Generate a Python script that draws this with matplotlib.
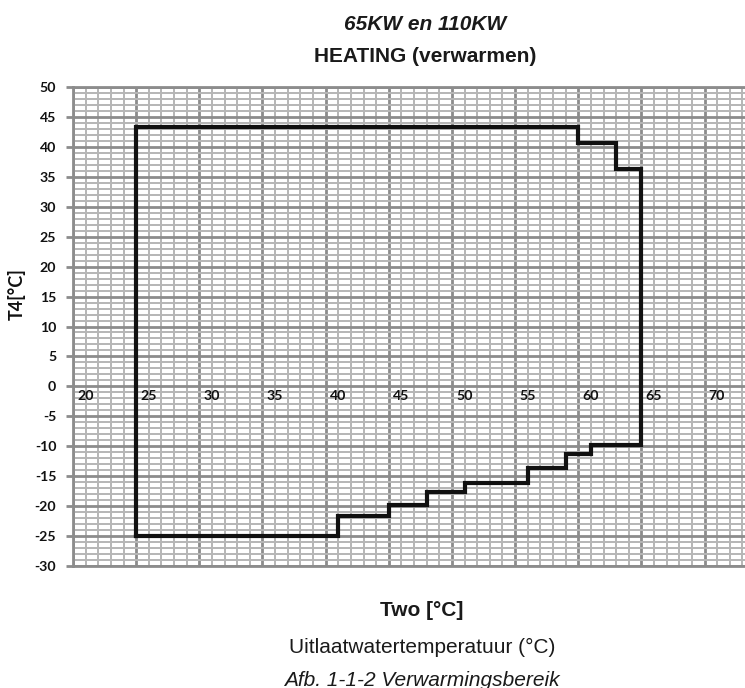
import matplotlib
matplotlib.use("Agg")
import matplotlib.pyplot as plt
from matplotlib.ticker import MultipleLocator
import matplotlib.transforms as mtrans

plt.rcParams["axes.unicode_minus"] = False

# Operating envelope (outlet water temperature vs ambient T4)
two_c = [25, 25, 60, 60, 63, 63, 65, 65, 61, 61, 59, 59, 56, 56, 51, 51,
         48, 48, 45, 45, 41, 41, 25]
t4_c = [-25, 43.3, 43.3, 40.7, 40.7, 36.3, 36.3, -9.8, -9.8, -11.3, -11.3,
        -13.7, -13.7, -16.1, -16.1, -17.7, -17.7, -19.8, -19.8, -21.7, -21.7,
        -25, -25]

x_ticks = [20, 25, 30, 35, 40, 45, 50, 55, 60, 65, 70]
y_ticks = [50, 45, 40, 35, 30, 25, 20, 15, 10, 5, 0, -5, -10, -15, -20, -25, -30]

title1 = "65KW en 110KW"
title2 = "HEATING (verwarmen)"
xlabel1 = "Two [°C]"
xlabel2 = "Uitlaatwatertemperatuur (°C)"
caption = "Afb. 1-1-2 Verwarmingsbereik"
ylabel = "T4[°C]"

MAJOR = "#8c8c8c"
MINOR = "#b6b6b6"
TICKFONT = dict(fontfamily="Lato", fontweight="bold", fontsize=10.2,
                color="#111111")

fig = plt.figure(figsize=(7.45, 6.88), dpi=100)
ax = fig.add_axes([73 / 745, (688 - 566) / 688, 1 - 73 / 745, (566 - 87) / 688])

ax.set_xlim(20, 73.2)
ax.set_ylim(-30, 50)
ax.set_axisbelow(True)

ax.xaxis.set_major_locator(MultipleLocator(5))
ax.xaxis.set_minor_locator(MultipleLocator(1))
ax.yaxis.set_major_locator(MultipleLocator(5))
ax.yaxis.set_minor_locator(MultipleLocator(1))

ax.grid(which="minor", color=MINOR, linewidth=1.4, zorder=0)
ax.grid(which="major", color=MAJOR, linewidth=2.0, zorder=1)

ax.plot(two_c, t4_c, color="#111111", linewidth=3.0, solid_joinstyle="miter",
        zorder=5)

# spines
for s in ("left", "bottom", "top"):
    ax.spines[s].set_color(MAJOR)
    ax.spines[s].set_linewidth(2.0)
ax.spines["right"].set_visible(False)

# y axis
ax.set_yticks(y_ticks)
ax.set_yticklabels([str(v) for v in y_ticks])
ax.tick_params(axis="y", which="major", direction="out", length=5, width=2,
               color=MAJOR, pad=7)
ax.tick_params(axis="y", which="minor", length=0)
for lab in ax.get_yticklabels():
    lab.set(**TICKFONT)

# primary x axis: no labels at the bottom
ax.tick_params(axis="x", which="both", length=0, labelbottom=False)

# x labels along the T4 = 0 line, drawn above the grid
offset = mtrans.ScaledTranslation(4 / 100, -4 / 100, fig.dpi_scale_trans)
for xv in x_ticks:
    ax.text(xv, 0, str(xv), ha="left", va="top", zorder=10,
            transform=ax.transData + offset, **TICKFONT)

fig.text(17 / 745, 1 - 294 / 688, ylabel, rotation=90, ha="center", va="center",
         fontfamily="Lato", fontweight="bold", fontsize=13, color="#111111")

# titles and captions
fig.text(425 / 745, 1 - 25 / 688, title1, ha="center", va="center",
         fontfamily="Liberation Sans", fontweight="bold", fontstyle="italic",
         fontsize=15, color="#1a1a1a")
fig.text(425 / 745, 1 - 56 / 688, title2, ha="center", va="center",
         fontfamily="Liberation Sans", fontweight="bold", fontsize=15,
         color="#1a1a1a")
fig.text(422 / 745, 1 - 610 / 688, xlabel1, ha="center", va="center",
         fontfamily="Liberation Sans", fontweight="bold", fontsize=15,
         color="#1a1a1a")
fig.text(422 / 745, 1 - 647 / 688, xlabel2, ha="center", va="center",
         fontfamily="Liberation Sans", fontsize=15, color="#1a1a1a")
fig.text(422 / 745, 1 - 680 / 688, caption, ha="center", va="center",
         fontfamily="Liberation Sans", fontstyle="italic", fontsize=15,
         color="#1a1a1a")

fig.savefig("out.png", dpi=100)
